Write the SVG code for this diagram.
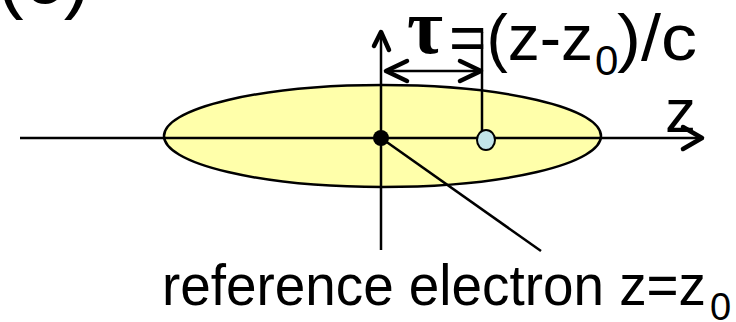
<svg xmlns="http://www.w3.org/2000/svg" width="736" height="322" viewBox="0 0 736 322">
<style>
.ln{stroke:#000;stroke-width:2.5;fill:none}
.hd{stroke:#000;stroke-width:4.5;fill:none;stroke-linecap:round;stroke-linejoin:round}
.t{font-family:"Liberation Sans",Arial,sans-serif;fill:#000}
</style>
<rect width="736" height="322" fill="#fff"/>
<text class="t" x="-3" y="3" font-size="80">(c)</text>
<g id="bunch">
<ellipse cx="382.5" cy="136" rx="218.5" ry="51" fill="#ffffaa" stroke="#000" stroke-width="2.5"/>
</g>
<g id="connectors">
<line class="ln" x1="20" y1="138" x2="702" y2="138"/>
<polyline class="hd" points="683,127 702,138 683,149"/>
<line class="ln" x1="381" y1="32" x2="381" y2="250"/>
<polyline class="hd" points="374,46 381,32 389,50"/>
<line class="ln" x1="482" y1="32" x2="482" y2="138"/>
<line class="ln" x1="386" y1="71" x2="481" y2="71"/>
<polyline class="hd" points="407,61 386,71 407,81"/>
<polyline class="hd" points="460,61 481,71 460,81"/>
<line class="ln" x1="381" y1="138" x2="541" y2="251"/>
</g>
<g id="ref-electron">
<circle cx="381" cy="138" r="8" fill="#000"/>
</g>
<g id="electron">
<ellipse cx="486" cy="140" rx="9" ry="10" fill="#c2e4ea" stroke="#000" stroke-width="2"/>
</g>
<g id="labels">
<text x="407" y="53" font-family="'Liberation Serif','DejaVu Serif',serif" font-weight="bold" font-size="78" fill="#000">τ</text>
<text class="t" x="449" y="60" font-size="64">=(z-z</text>
<text class="t" x="595" y="75" font-size="42">0</text>
<text class="t" x="617" y="60" font-size="64" textLength="80" lengthAdjust="spacingAndGlyphs">)/c</text>
<text class="t" x="665" y="132" font-size="62">z</text>
<text class="t" x="162" y="305" font-size="58" textLength="544" lengthAdjust="spacingAndGlyphs">reference electron z=z</text>
<text class="t" x="710" y="320" font-size="38">0</text>
</g>
</svg>
